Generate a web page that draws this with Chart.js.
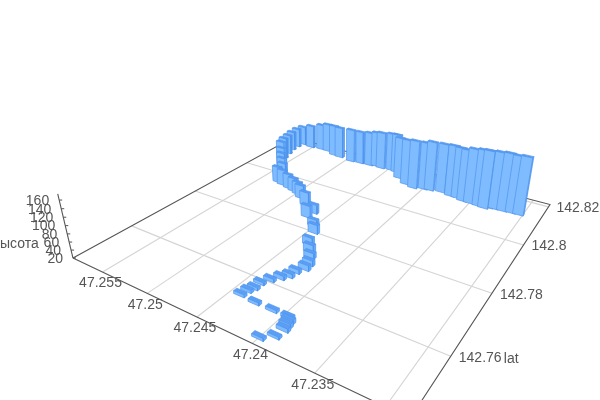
<!DOCTYPE html>
<html>
<head>
<meta charset="utf-8">
<style>
  html, body { margin: 0; padding: 0; background: #fff; }
  canvas { display: block; }
</style>
<script src="https://cdn.jsdelivr.net/npm/chart.js@4/dist/chart.umd.min.js"></script>
</head>
<body>
<canvas id="chart" width="600" height="400"></canvas>
<script>
// values, one bar per index
const lonValues = [47.2304,47.2311,47.2319,47.2327,47.2332,47.2336,47.2342,47.2351,47.2358,47.2365,47.2372,47.2383,47.2394,47.2400,47.2410,47.2420,47.2432,47.2441,47.2448,47.2459,47.2466,47.2473,47.2484,47.2495,47.2511,47.2519,47.2531,47.2540,47.2553,47.2566,47.2568,47.2568,47.2565,47.2562,47.2560,47.2552,47.2546,47.2541,47.2535,47.2531,47.2523,47.2514,47.2506,47.2499,47.2492,47.2480,47.2466,47.2465,47.2452,47.2445,47.2438,47.2431,47.2426,47.2421,47.2420,47.2424,47.2425,47.2429,47.2434,47.2438,47.2438,47.2440,47.2441,47.2426,47.2410,47.2396,47.2393,47.2392,47.2391,47.2392,47.2400];
const latValues = [142.8127,142.8126,142.8124,142.8123,142.8121,142.8113,142.8116,142.8118,142.8119,142.8126,142.8127,142.8134,142.8128,142.8125,142.8116,142.8125,142.8147,142.8175,142.8179,142.8175,142.8179,142.8174,142.8172,142.8169,142.8175,142.8178,142.8192,142.8193,142.8189,142.8194,142.8172,142.8147,142.8118,142.8089,142.8070,142.8044,142.8024,142.8009,142.7991,142.7956,142.7950,142.7943,142.7937,142.7930,142.7917,142.7894,142.7849,142.7873,142.7824,142.7800,142.7754,142.7732,142.7715,142.7692,142.7674,142.7656,142.7637,142.7623,142.7607,142.7589,142.7570,142.7557,142.7540,142.7536,142.7536,142.7535,142.7527,142.7516,142.7505,142.7483,142.7466];
const heightValues = [174,172,174,172,170,174,171,167,160,158,159,154,155,150,153,146,136,130,127,125,120,117,114,115,110,110,103,96,87,75,75,74,76,79,76,72,68,62,58,64,63,60,57,54,56,56,52,44,38,43,40,40,34,34,34,30,30,30,28,27,27,27,27,27,27,28,30,30,29,26,26];

const lonTicks = [47.23, 47.235, 47.24, 47.245, 47.25, 47.255];
const latTicks = [142.76, 142.78, 142.8, 142.82];
const heightTicks = [20, 40, 60, 80, 100, 120, 140, 160];

const lonRange = [47.2284, 47.2586];
const latRange = [142.7448, 142.8214];
const heightRange = [20, 174];

// footprint of one bar, in axis units
const barLon = 0.00098;
const barLat = 0.0009;

// camera: homography of the floor plus vanishing point of the verticals
const cam = { a: 503.5, b: -307.2, c: 410, d: -78.8, e: -55.1, f: 418.5, g: 0.6609, h: 0.4085, vx: 333, vy: 1350, mz: -0.000507 };

function project(lon, lat, height) {
  const s = (lat - latRange[0]) / (latRange[1] - latRange[0]);
  const r = (lon - lonRange[0]) / (lonRange[1] - lonRange[0]);
  const m = (height - heightRange[0]) * cam.mz;
  const w = cam.g * s + cam.h * r + 1 + m;
  return {
    x: (cam.a * s + cam.b * r + cam.c + m * cam.vx) / w,
    y: (cam.d * s + cam.e * r + cam.f + m * cam.vy) / w,
    w: w
  };
}

const datasets = [];

function addLine(points, color, width, order) {
  datasets.push({ data: points, showLine: true, fill: false, borderColor: color, borderWidth: width, pointRadius: 0, tension: 0, order: order });
}

function addFace(points, fillColor, order) {
  datasets.push({
    data: points.concat([points[0]]), showLine: true, fill: 'shape', backgroundColor: fillColor,
    borderColor: '#4f93ec', borderWidth: 0.7, borderJoinStyle: 'round', pointRadius: 0, tension: 0, order: order
  });
}

// floor grid
lonTicks.forEach(function (t) {
  addLine([project(t, latRange[0], 20), project(t, latRange[1], 20)], '#d4d4d4', 1.1, 100000);
});
latTicks.forEach(function (t) {
  addLine([project(lonRange[0], t, 20), project(lonRange[1], t, 20)], '#d4d4d4', 1.1, 100000);
});

// axis box
const cornerA = project(lonRange[1], latRange[0], 20);
const cornerB = project(lonRange[0], latRange[1], 20);
const cornerC = project(lonRange[1], latRange[1], 20);
const cornerF = project(lonRange[0], latRange[0], 20);
addLine([cornerA, cornerF, cornerB, cornerC, cornerA], '#555', 1.1, 99999);
addLine([cornerA, project(lonRange[1], latRange[0], heightRange[1])], '#555', 1.1, 99999);
heightTicks.forEach(function (t) {
  const p = project(lonRange[1], latRange[0], t);
  addLine([p, { x: p.x + 3, y: p.y }], '#555', 1, 99999);
});

// bars, far ones first (higher order is painted earlier)
const barOrder = lonValues.map(function (v, i) { return i; }).sort(function (p, q) {
  return project(lonValues[q], latValues[q], 20).w - project(lonValues[p], latValues[p], 20).w;
});

barOrder.forEach(function (i, rank) {
  const lon0 = lonValues[i] - barLon / 2, lon1 = lonValues[i] + barLon / 2;
  const lat0 = latValues[i] - barLat / 2, lat1 = latValues[i] + barLat / 2;
  const top = heightValues[i];
  const order = (barOrder.length - rank) * 3;
  // wide face towards the viewer
  addFace([project(lon0, lat0, 20), project(lon1, lat0, 20), project(lon1, lat0, top), project(lon0, lat0, top)], '#7fbcff', order);
  // narrow side face
  addFace([project(lon0, lat0, 20), project(lon0, lat1, 20), project(lon0, lat1, top), project(lon0, lat0, top)], '#66abfc', order + 1);
  // top
  addFace([project(lon0, lat0, top), project(lon1, lat0, top), project(lon1, lat1, top), project(lon0, lat1, top)], '#5a9ff5', order + 1);
});

// tick labels and axis names are placed through the same scales
const labelsPlugin = {
  id: 'axisLabels',
  afterDraw: function (chart) {
    const ctx = chart.ctx, sx = chart.scales.x, sy = chart.scales.y;
    function text(str, p, dx, dy, align) {
      ctx.textAlign = align;
      ctx.fillText(str, sx.getPixelForValue(p.x) + dx, sy.getPixelForValue(p.y) + dy);
    }
    ctx.save();
    ctx.font = '14px "Liberation Sans", Arial, sans-serif';
    ctx.fillStyle = '#555';
    ctx.textBaseline = 'middle';
    lonTicks.forEach(function (t) { text(String(t), project(t, latRange[0], 20), -2, 11.5, 'center'); });
    latTicks.forEach(function (t) { text(String(t), project(lonRange[0], t, 20), 8, 1.5, 'left'); });
    heightTicks.forEach(function (t) { text(String(t), project(lonRange[1], latRange[0], t), -10, 1, 'right'); });
    text('lat', project(lonRange[0], 142.76, 20), 53, 3, 'left');
    text('высота', project(lonRange[1], latRange[0], 95), -27, 16, 'right');
    ctx.restore();
  }
};

new Chart(document.getElementById('chart'), {
  type: 'scatter',
  data: { datasets: datasets },
  options: {
    responsive: false,
    animation: false,
    layout: { padding: 0 },
    plugins: { legend: { display: false }, tooltip: { enabled: false } },
    scales: {
      x: { type: 'linear', min: 0, max: 600, display: false },
      y: { type: 'linear', min: 0, max: 400, reverse: true, display: false }
    }
  },
  plugins: [labelsPlugin]
});
</script>
</body>
</html>
